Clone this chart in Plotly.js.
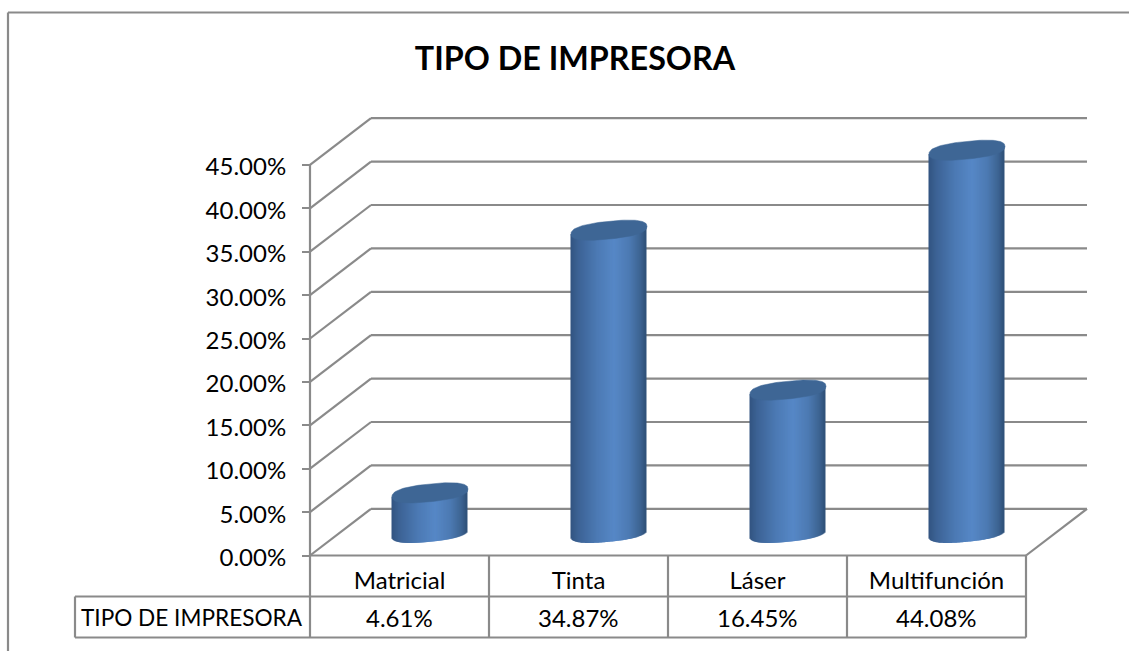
<!DOCTYPE html>
<html>
<head>
<meta charset="utf-8">
<script src="https://cdn.plot.ly/plotly-3.0.1.min.js"></script>
<style>html,body{margin:0;padding:0;background:#fff;overflow:hidden}#chart{width:1129px;height:651px}</style>
</head>
<body>
<div id="chart"></div>
<script>
// Data
var categories = ["Matricial", "Tinta", "Láser", "Multifunción"];
var values = [4.61, 34.87, 16.45, 44.08];
var seriesName = "TIPO DE IMPRESORA";
var yTicks = [0, 5, 10, 15, 20, 25, 30, 35, 40, 45];

// Geometry: pixels per data unit and 3D projection
var W = 1129, H = 651;
var originX = 310, originY = 555.5, pxPerCat = 179, pxPerPct = 8.68;
var depthX = 61 / pxPerCat, depthY = 46.7 / pxPerPct;
var xOf = function (px) { return (px - originX) / pxPerCat; };
var yOf = function (py) { return (originY - py) / pxPerPct; };
var n = categories.length;
var GRID = "#8a8a8a";

function line(x0, y0, x1, y1, w) {
  return { type: "line", xref: "x", yref: "y", x0: x0, y0: y0, x1: x1, y1: y1, layer: "below",
           line: { color: GRID, width: w || 2.2 } };
}
var shapes = [];
// Walls: gridlines
yTicks.forEach(function (v) {
  shapes.push(line(0, v, depthX, v + depthY));
  shapes.push(line(depthX, v + depthY, n + depthX, v + depthY));
});
// Left axis, floor
shapes.push(line(0, 0, 0, yTicks[yTicks.length - 1]));
shapes.push(line(n + depthX, depthY, n, 0));
// Data table
var rowA = yOf(596.5), rowB = yOf(637.5), tableLeft = xOf(75);
shapes.push(line(0, 0, n, 0));
shapes.push(line(tableLeft, rowA, n, rowA));
shapes.push(line(tableLeft, rowB, n, rowB));
shapes.push(line(tableLeft, rowA, tableLeft, rowB));
for (var c = 0; c <= n; c++) shapes.push(line(c, 0, c, rowB));
// Outer frame
shapes.push(line(xOf(8), yOf(12.5), xOf(W + 2), yOf(12.5)));
shapes.push(line(xOf(8), yOf(12.5), xOf(8), yOf(H + 2)));

// Cylinder shading
var stops = [[-1, [50, 84, 128]], [-0.8, [60, 98, 148]], [-0.3, [76, 122, 180]], [0.15, [86, 135, 198]],
             [0.55, [76, 122, 178]], [0.85, [60, 98, 144]], [1, [44, 76, 116]]];
function shade(u) {
  for (var i = 1; i < stops.length; i++) {
    if (u <= stops[i][0]) {
      var a = stops[i - 1], b = stops[i], t = (u - a[0]) / (b[0] - a[0]);
      return "rgb(" + [0, 1, 2].map(function (k) { return Math.round(a[1][k] + (b[1][k] - a[1][k]) * t); }).join(",") + ")";
    }
  }
  return "rgb(44,76,116)";
}
var radius = 38 / pxPerCat;      // half width, in category units
var tilt = 3.8 / pxPerPct;       // ellipse tilt, in pct units
var minor = 8.9 / pxPerPct;      // ellipse half height, in pct units
var roundness = 0.8;             // below 1 gives a slightly fuller ellipse
var floorLift = depthY / 2 - 0.7 / pxPerPct;
var spow = function (a, p) { return (a < 0 ? -1 : 1) * Math.pow(Math.abs(a), p); };
var stepPx = 1, stripW = 2 / pxPerCat;

var sx = [], sBase = [], sLen = [], sCol = [], sW = [];
values.forEach(function (v, i) {
  var cx = i + 0.5 + depthX / 2;
  for (var p = -37.5; p < 37; p += stepPx) {
    var u = p / 38;
    var lo = floorLift + tilt * u - minor * Math.pow(1 - Math.pow(Math.abs(u), 2 / roundness), roundness / 2);
    var hi = floorLift + v + tilt * u;
    sx.push(cx + u * radius);
    sBase.push(lo);
    sLen.push(hi - lo);
    sCol.push(shade(u));
    sW.push(stripW);
  }
});
var traces = [{
  type: "bar", x: sx, y: sLen, base: sBase, width: sW,
  marker: { color: sCol, line: { width: 0 } },
  hoverinfo: "skip", showlegend: false
}];
values.forEach(function (v, i) {
  var cx = i + 0.5 + depthX / 2, cy = floorLift + v, xs = [], ys = [];
  for (var d = 0; d <= 360; d += 4) {
    var t = d * Math.PI / 180, co = spow(Math.cos(t), roundness);
    xs.push(cx + radius * co);
    ys.push(cy + tilt * co + minor * spow(Math.sin(t), roundness));
  }
  traces.push({
    type: "scatter", mode: "lines", x: xs, y: ys, fill: "toself", fillcolor: "#3e6695",
    line: { color: "#3e6695", width: 0.5 }, hoverinfo: "skip", showlegend: false, cliponaxis: false
  });
});

// Table values row
var fam = "Lato, 'Open Sans', sans-serif";
var font = { family: fam, size: 24, color: "#000" };
var annotations = values.map(function (v, i) {
  return { x: i + 0.5, y: yOf(617), xref: "x", yref: "y", text: v.toFixed(2) + "%", showarrow: false, font: font };
});
annotations.push({ x: xOf(192), y: yOf(617), xref: "x", yref: "y", text: seriesName, showarrow: false,
                   font: { family: fam, size: 22.6, color: "#000" } });

var layout = {
  width: W, height: H, margin: { l: 0, r: 0, t: 0, b: 0 },
  paper_bgcolor: "#fff", plot_bgcolor: "#fff", showlegend: false, barmode: "overlay",
  title: { text: "<b>" + seriesName + "</b>", x: 575 / W, xanchor: "center", y: 1 - 59 / H, yanchor: "middle",
           font: { family: fam, size: 32.3, color: "#000" } },
  xaxis: {
    range: [xOf(0), xOf(W)], anchor: "free", position: 1 - 564 / H, showgrid: false, zeroline: false, showline: false,
    tickmode: "array", tickvals: categories.map(function (_, i) { return i + 0.5; }), ticktext: categories,
    ticks: "", tickfont: font, fixedrange: true
  },
  yaxis: {
    range: [yOf(H), yOf(0)], anchor: "free", position: originX / W, side: "left", showgrid: false, zeroline: false, showline: false,
    tickmode: "array", tickvals: yTicks, ticktext: yTicks.map(function (v) { return v.toFixed(2) + "%"; }),
    ticks: "outside", ticklen: 8, tickwidth: 2, tickcolor: GRID, tickfont: font, ticklabelstandoff: 11, ticklabelshift: 2, fixedrange: true
  },
  shapes: shapes, annotations: annotations
};
Plotly.newPlot("chart", traces, layout, { displayModeBar: false, staticPlot: true });
</script>
</body>
</html>
